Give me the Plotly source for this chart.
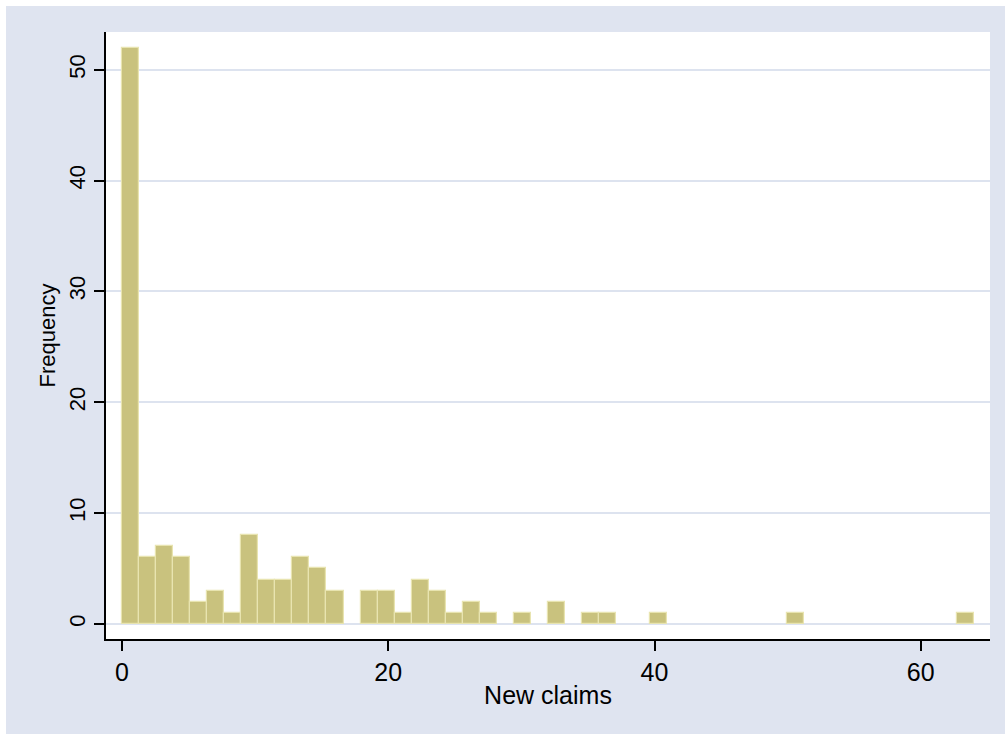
import plotly.graph_objects as go

# Histogram of new claims: 50 equal-width bins starting at 0
bin_start = 0.0
bin_width = 1.28
frequency = [
    52, 6, 7, 6, 2, 3, 1, 8, 4, 4,
    6, 5, 3, 0, 3, 3, 1, 4, 3, 1,
    2, 1, 0, 1, 0, 2, 0, 1, 1, 0,
    0, 1, 0, 0, 0, 0, 0, 0, 0, 1,
    0, 0, 0, 0, 0, 0, 0, 0, 0, 1,
]
x_ticks = [0, 20, 40, 60]
y_ticks = [0, 10, 20, 30, 40, 50]

centers = [bin_start + bin_width * (i + 0.5) for i in range(len(frequency))]
xs = [c for c, f in zip(centers, frequency) if f > 0]
ys = [f for f in frequency if f > 0]

W, H = 1005, 734
ML, MR, MT, MB = 106, 15, 32, 95
PW, PH = W - ML - MR, H - MT - MB

BG = "#dfe4f0"
FONT = "Arial, Liberation Sans, sans-serif"

fig = go.Figure(
    go.Bar(
        x=xs,
        y=ys,
        width=bin_width,
        marker=dict(color="rgb(201,194,126)", line=dict(color="rgb(232,228,176)", width=1.2)),
        hoverinfo="x+y",
    )
)


def px_x(p):
    return (p - ML) / PW


def px_y(p):
    return (H - MB - p) / PH


# thin white page border along the top and left of the graph region
fig.add_shape(type="rect", xref="paper", yref="paper",
              x0=px_x(0), x1=px_x(W), y0=px_y(0), y1=px_y(6),
              fillcolor="white", line_width=0, layer="above")
fig.add_shape(type="rect", xref="paper", yref="paper",
              x0=px_x(0), x1=px_x(6), y0=px_y(H), y1=px_y(0),
              fillcolor="white", line_width=0, layer="above")

fig.update_layout(
    width=W,
    height=H,
    autosize=False,
    margin=dict(l=ML, r=MR, t=MT, b=MB, pad=0),
    paper_bgcolor=BG,
    plot_bgcolor="white",
    showlegend=False,
    bargap=0,
    font=dict(family=FONT, color="black"),
    xaxis=dict(
        range=[-1.2, 65.2],
        tickmode="array",
        tickvals=x_ticks,
        ticks="outside",
        ticklen=10,
        tickwidth=1.6,
        tickcolor="black",
        showline=True,
        linecolor="black",
        linewidth=1.6,
        showgrid=False,
        zeroline=False,
        tickfont=dict(size=25),
        title=dict(text="New claims", font=dict(size=25), standoff=2),
        automargin=False,
    ),
    yaxis=dict(
        range=[-1.37, 53.41],
        tickmode="array",
        tickvals=y_ticks,
        tickangle=-90,
        ticks="outside",
        ticklen=10,
        tickwidth=1.6,
        tickcolor="black",
        showline=True,
        linecolor="black",
        linewidth=1.6,
        showgrid=True,
        gridcolor="#dde3ef",
        gridwidth=1.5,
        zeroline=False,
        tickfont=dict(size=22),
        title=dict(text="Frequency", font=dict(size=22), standoff=4),
        automargin=False,
    ),
)

fig.write_html("out.html")
